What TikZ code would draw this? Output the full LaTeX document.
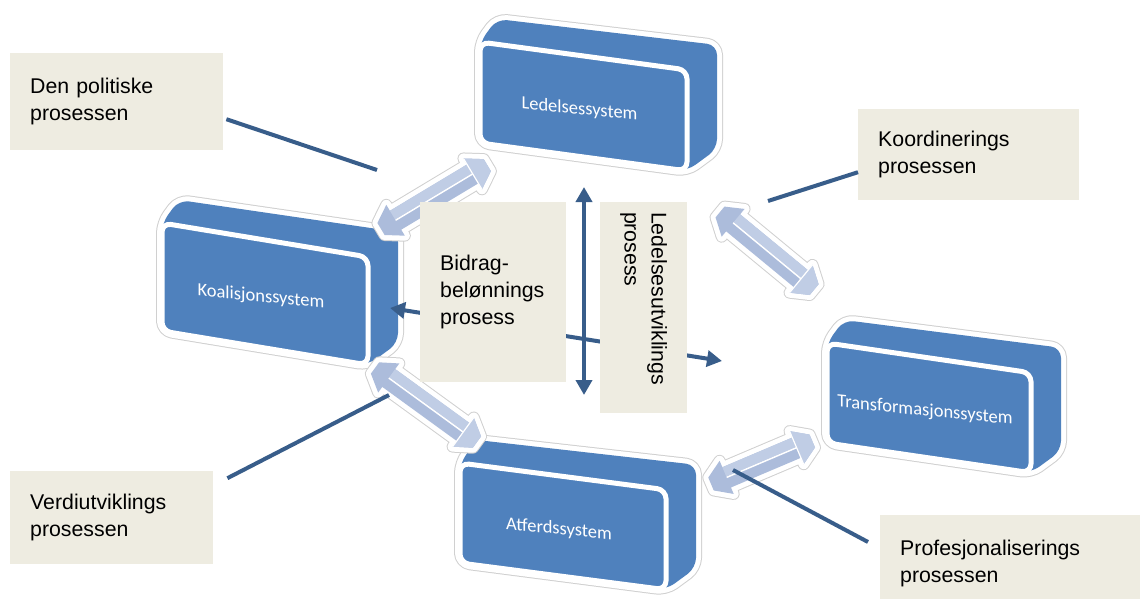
\documentclass[tikz,border=0pt]{standalone}
\usepackage{fontspec}
\newfontfamily\lblfam{Liberation Sans}
\newfontfamily\sysfam{Carlito}
\usetikzlibrary{arrows.meta,calc}
\definecolor{blockblue}{RGB}{79,129,189}
\definecolor{lightarr}{RGB}{172,188,219}
\definecolor{lightarrb}{RGB}{192,205,229}
\definecolor{darkline}{RGB}{56,93,138}
\definecolor{beige}{RGB}{238,236,225}
\definecolor{halogray}{RGB}{208,208,208}

\tikzset{
  blockbody/.style={fill=blockblue, rounded corners=10pt, line join=round,
    preaction={draw=halogray, line width=12pt, line join=round},
    preaction={draw=white, line width=10pt, line join=round}},
  blockface/.style={fill=blockblue, draw=white, line width=5pt, rounded corners=9pt},
  systext/.style={font=\sysfam\fontsize{18.5pt}{22pt}\selectfont, text=white, yslant=-0.1, inner sep=0pt},
  arrbody/.style={fill=lightarr, line join=round,
    preaction={draw=halogray, line width=12pt, line join=round},
    preaction={draw=white, line width=10pt, line join=round}},
  lbl/.style={fill=beige, font=\lblfam\fontsize{21.3pt}{27pt}\selectfont, align=left,
    inner ysep=0pt, inner xsep=20pt, anchor=north west,
    execute at begin node={\hyphenpenalty=10000}},
  conn/.style={draw=darkline, line width=4pt},
  dtip/.tip={Triangle[length=15pt,width=16pt]}
}

% 3D block: name, x, y, W, H, slope, text
\newcommand{\sysblock}[7]{%
  \begin{scope}[shift={(#2,#3)}]
    \path[blockbody] (0,#5) -- (0,0) -- (17,-23) -- ({#4+30},{#6*#4-25})
      -- ({#4+30},{#6*#4+#5-22}) -- (#4,{#6*#4+#5}) -- cycle;
    \path[blockface] (0,0) -- (#4,{#6*#4}) -- (#4,{#6*#4+#5}) -- (0,#5) -- cycle;
    \node[systext] (#1) at ({#4/2-4},{#6*#4/2+#5/2+3}) {#7};
  \end{scope}}

% light 3D double arrow: x, y, angle, length
\newcommand{\lightdbl}[4]{%
  \begin{scope}[shift={(#1,#2)}, rotate=#3]
    \path[arrbody] (0,-7) -- (17,-18) -- (17,-11) -- ({#4-17},-11) -- ({#4-17},-18)
      -- (#4,-7) -- (#4,7) -- ({#4-17},18) -- ({#4-17},11) -- (17,11) -- (17,18) -- (0,7) -- cycle;
    \fill[lightarrb] (17,-11) rectangle ({#4-17},-1);
    \draw[white, line width=1.5pt] (17,0) -- ({#4-17},0);
    \fill[lightarrb] ({#4-17},-18) -- (#4,-7) -- (#4,7) -- ({#4-17},18) -- cycle;
    \draw[white, line width=1.2pt] ({#4-17},-18) -- ({#4-17},18);
  \end{scope}}

\begin{document}
\begin{tikzpicture}[x=1pt,y=-1pt]
\useasboundingbox (0,0) rectangle (1140,599);

% system blocks
\sysblock{led}{480}{42}{207}{101}{0.135}{Ledelsessystem}
\sysblock{koal}{162}{223}{206}{108}{0.165}{Koalisjonssystem}
\sysblock{trans}{827}{343}{204}{100}{0.146}{Transformasjonssystem}
\sysblock{atf}{460}{463}{206}{100}{0.13}{Atferdssystem}

% light 3D double arrows between the systems
\lightdbl{381}{229}{31}{124}
\lightdbl{720}{212}{-39.5}{122}
\lightdbl{375}{368}{-36}{126}
\lightdbl{711}{484}{23}{110}

% central double arrow (behind the boxes)
\coordinate (hl) at (390,308);
\coordinate (hr) at (722,361);
\draw[conn, dtip-dtip] (hl) -- (hr);

% process boxes
\node[lbl, text width=173pt, minimum height=97pt] (pol) at (10,53) {Den politiske\\prosessen};
\node[lbl, text width=181pt, minimum height=91pt] (koord) at (858,109) {Koordinerings\\prosessen};
\node[lbl, text width=163pt, minimum height=93pt] (verdi) at (10,471) {Verdiutviklings\\prosessen};
\node[lbl, text width=220pt, minimum height=96pt] (prof) at (880,515) {Profesjonaliserings\\prosessen};
\node[lbl, text width=106pt, minimum height=180pt] (bidrag) at (420,202) {Bidrag-\\belønnings\\prosess};
\node[lbl, anchor=center, rotate=-90, text width=191pt, inner xsep=10pt, minimum height=87pt]
  (ledutv) at (643.5,307.5) {Ledelsesutviklings\\prosess};

% vertical double arrow
\coordinate (vt) at (584,187);
\coordinate (vb) at (584,395);
\draw[conn, dtip-dtip] (vt) -- (vb);

% connector lines
\coordinate (c1) at (377,170);
\coordinate (c2) at (768,201);
\coordinate (c3) at (389,395);
\coordinate (c4) at (733,470);
\draw[conn] ($(pol.east)+(3,17.5)$) -- (c1);
\draw[conn] (c2) -- ($(koord.west)+(0,17.5)$);
\draw[conn] ($(verdi.east)+(14,-39.5)$) -- (c3);
\draw[conn] (c4) -- ($(prof.north west)+(-12,27)$);
\end{tikzpicture}
\end{document}
